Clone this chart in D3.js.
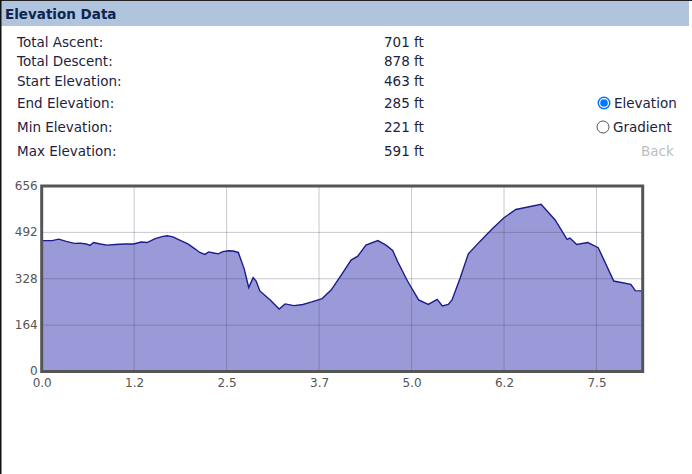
<!DOCTYPE html>
<html>
<head>
<meta charset="utf-8">
<script src="https://cdn.jsdelivr.net/npm/d3@7"></script>
<style>
  html, body { margin: 0; padding: 0; background: #fff; }
  svg { display: block; }
</style>
</head>
<body>
<svg id="chart" width="692" height="474"></svg>
<script>
// ---- Data ----
const distance = [0.00, 0.14, 0.23, 0.33, 0.44, 0.52, 0.60, 0.65, 0.70, 0.79, 0.88, 0.99, 1.12, 1.24, 1.34, 1.42, 1.53, 1.62, 1.69, 1.77, 1.86, 1.97, 2.07, 2.13, 2.20, 2.25, 2.32, 2.38, 2.44, 2.52, 2.58, 2.65, 2.73, 2.79, 2.85, 2.89, 2.94, 3.08, 3.20, 3.28, 3.40, 3.52, 3.64, 3.78, 3.90, 4.03, 4.17, 4.26, 4.37, 4.53, 4.64, 4.73, 4.80, 4.93, 5.08, 5.21, 5.33, 5.40, 5.48, 5.53, 5.64, 5.75, 5.91, 6.07, 6.23, 6.39, 6.73, 6.92, 7.08, 7.12, 7.21, 7.36, 7.50, 7.71, 7.94, 8.00, 8.10];
const elevation = [463, 463, 468, 460, 453, 454, 451, 446, 456, 451, 447, 449, 451, 451, 458, 456, 470, 477, 480, 476, 465, 451, 433, 421, 414, 423, 419, 416, 424, 427, 426, 421, 362, 297, 332, 320, 285, 253, 221, 239, 233, 237, 246, 258, 288, 338, 394, 408, 447, 463, 447, 428, 387, 320, 253, 237, 255, 232, 237, 253, 331, 416, 461, 504, 544, 573, 591, 536, 467, 472, 449, 456, 438, 320, 308, 286, 285];
const xTicks = [0, 1.246, 2.492, 3.738, 4.985, 6.231, 7.477];
const xTickLabels = ["0.0", "1.2", "2.5", "3.7", "5.0", "6.2", "7.5"];
const yTicks = [0, 164, 328, 492, 656];
const yTickLabels = ["0", "164", "328", "492", "656"];
const statLabels = ["Total Ascent:", "Total Descent:", "Start Elevation:", "End Elevation:", "Min Elevation:", "Max Elevation:"];
const statValues = ["701 ft", "878 ft", "463 ft", "285 ft", "221 ft", "591 ft"];
const statRowY = [47, 66, 86, 108, 132, 156];
const radioOptions = ["Elevation", "Gradient"];
const radioSelected = "Elevation";
const xMax = 8.1, yMax = 656;

// ---- Layout ----
const svg = d3.select("#chart");
const font = "'DejaVu Sans', Verdana, sans-serif";
const textColor = "#1c2340";
const fs = 13.5;

svg.append("rect").attr("x", 0).attr("y", 0).attr("width", 692).attr("height", 474).attr("fill", "#fff");
// header bar
svg.append("rect").attr("x", 1).attr("y", 1).attr("width", 688).attr("height", 25).attr("fill", "#b0c4de");
svg.append("line").attr("x1", 0).attr("x2", 692).attr("y1", 0.5).attr("y2", 0.5).attr("stroke", "#222").attr("stroke-width", 1);
svg.append("line").attr("x1", 0.75).attr("x2", 0.75).attr("y1", 0).attr("y2", 474).attr("stroke", "#111").attr("stroke-width", 1.5);
svg.append("text").attr("x", 5).attr("y", 19).attr("font-family", font).attr("font-weight", "bold")
  .attr("font-size", 13.5).attr("fill", "#0d2550").text("Elevation Data");

// stats
const stats = svg.append("g").attr("font-family", font).attr("font-size", fs).attr("fill", textColor);
stats.selectAll("text.lab").data(statLabels).join("text").attr("class", "lab")
  .attr("x", 17).attr("y", (d, i) => statRowY[i]).text(d => d);
stats.selectAll("text.val").data(statValues).join("text").attr("class", "val")
  .attr("x", 384).attr("y", (d, i) => statRowY[i]).text(d => d);

// radios
const radioY = [103, 127];
const radios = svg.append("g");
radioOptions.forEach((opt, i) => {
  const cy = radioY[i], cx = 604;
  if (opt === radioSelected) {
    radios.append("circle").attr("cx", cx).attr("cy", cy).attr("r", 6.5).attr("fill", "#0075ff");
    radios.append("circle").attr("cx", cx).attr("cy", cy).attr("r", 5).attr("fill", "#fff");
    radios.append("circle").attr("cx", cx).attr("cy", cy).attr("r", 3.8).attr("fill", "#0075ff");
  } else {
    radios.append("circle").attr("cx", cx - 1).attr("cy", cy).attr("r", 6).attr("fill", "#fff")
      .attr("stroke", "#555").attr("stroke-width", 1);
  }
  radios.append("text").attr("x", i === 0 ? 614 : 613).attr("y", cy + 5).attr("font-family", font)
    .attr("font-size", fs).attr("fill", textColor).text(opt);
});
svg.append("text").attr("x", 641).attr("y", 156).attr("font-family", font).attr("font-size", fs)
  .attr("fill", "#bdbdbd").text("Back");

// ---- Chart ----
const plot = { left: 41.7, right: 642.7, top: 186, bottom: 371.5 };
const x = d3.scaleLinear().domain([0, xMax]).range([plot.left, plot.right]);
const y = d3.scaleLinear().domain([0, yMax]).range([plot.bottom, plot.top]);
const pts = distance.map((d, i) => [d, elevation[i]]);

const g = svg.append("g");
const gridColor = "rgba(60,60,90,0.28)";
const area = d3.area().x(d => x(d[0])).y0(y(0)).y1(d => y(d[1]));
g.append("path").datum(pts).attr("d", area).attr("fill", "#9a9ad8");
g.selectAll("line.gx").data(xTicks.slice(1)).join("line").attr("class", "gx")
  .attr("x1", d => x(d)).attr("x2", d => x(d)).attr("y1", plot.top).attr("y2", plot.bottom)
  .attr("stroke", gridColor).attr("stroke-width", 1);
g.selectAll("line.gy").data(yTicks.slice(1, -1)).join("line").attr("class", "gy")
  .attr("x1", plot.left).attr("x2", plot.right).attr("y1", d => y(d)).attr("y2", d => y(d))
  .attr("stroke", gridColor).attr("stroke-width", 1);
const line = d3.line().x(d => x(d[0])).y(d => y(d[1]));
g.append("path").datum(pts).attr("d", line).attr("fill", "none").attr("stroke", "#1c1c8a").attr("stroke-width", 1.4);
g.append("rect").attr("x", plot.left).attr("y", plot.top).attr("width", plot.right - plot.left)
  .attr("height", plot.bottom - plot.top).attr("fill", "none").attr("stroke", "#555").attr("stroke-width", 3);

// axes
const xAxis = d3.axisBottom(x).tickValues(xTicks).tickFormat((d, i) => xTickLabels[i]).tickSize(0).tickPadding(7);
const yAxis = d3.axisLeft(y).tickValues(yTicks).tickFormat((d, i) => yTickLabels[i]).tickSize(0).tickPadding(4);
const xa = svg.append("g").attr("transform", `translate(0,${plot.bottom})`).call(xAxis);
const ya = svg.append("g").attr("transform", `translate(${plot.left},0)`).call(yAxis);
[xa, ya].forEach(a => {
  a.select(".domain").remove();
  a.selectAll("text").attr("font-family", font).attr("font-size", 12).attr("fill", "#555");
});
ya.selectAll("text").attr("dy", "0.28em");
</script>
</body>
</html>
